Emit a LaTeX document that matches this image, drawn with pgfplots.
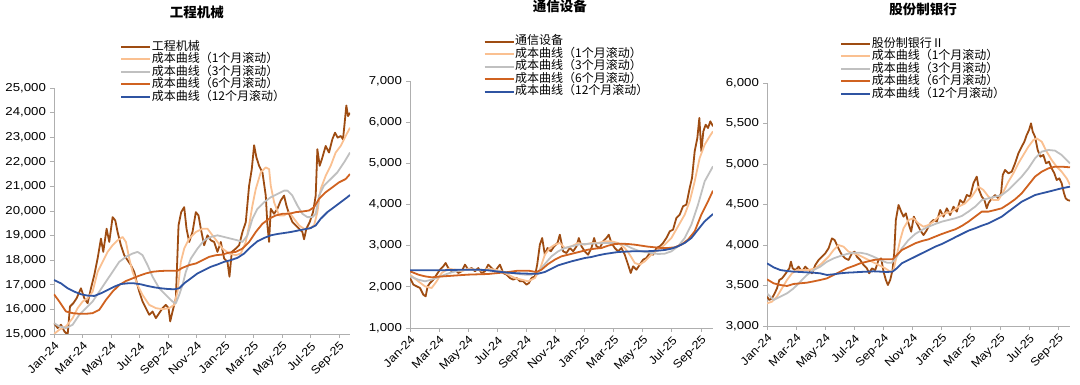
\documentclass[border=0pt]{standalone}
\usepackage{fontspec}
\setmainfont{Liberation Sans}
\newfontfamily\cjk{Noto Sans CJK SC}
\usepackage{pgfplots}
\pgfplotsset{compat=1.18}
\definecolor{cBrown}{RGB}{158,76,18}
\definecolor{cPeach}{RGB}{250,192,145}
\definecolor{cGray}{RGB}{192,192,192}
\definecolor{cOrange}{RGB}{208,98,32}
\definecolor{cBlue}{RGB}{47,84,162}
\definecolor{axgray}{RGB}{175,175,175}
\pgfplotsset{
  panel/.style={
    scale only axis,
    axis x line*=bottom, axis y line*=left,
    axis line style={draw=axgray, line width=0.9pt},
    tick pos=left, tick align=outside,
    major tick length=4pt,
    tick style={draw=axgray, line width=0.9pt},
    scaled y ticks=false,
    /pgf/number format/assume math mode=true,
    yticklabel style={/pgf/number format/fixed, /pgf/number format/1000 sep={,}, font=\fontsize{11.5}{12}\selectfont, xscale=1.15},
    xticklabel style={rotate=45, anchor=north east, font=\fontsize{11.5}{12}\selectfont, xscale=1.1, inner sep=2pt},
    xticklabels={Jan-24,Mar-24,May-24,Jul-24,Sep-24,Nov-24,Jan-25,Mar-25,May-25,Jul-25,Sep-25},
    legend cell align=left,
    legend image code/.code={\draw[#1, line width=2pt] (0pt,0pt) -- (29pt,0pt);},
    legend style={draw=none, fill=none, inner sep=0pt, row sep=0pt,
      font=\cjk\fontsize{12}{12}\selectfont,
      nodes={inner sep=0.6pt, text height=9pt, text depth=2.3pt}},
    clip=true,
  },
  sBrown/.style={color=cBrown, line width=1.8pt, line join=round},
  sPeach/.style={color=cPeach, line width=1.8pt, line join=round},
  sGray/.style={color=cGray, line width=1.8pt, line join=round},
  sOrange/.style={color=cOrange, line width=1.8pt, line join=round},
  sBlue/.style={color=cBlue, line width=1.8pt, line join=round},
}
\begin{document}
\begin{tikzpicture}[x=1pt,y=1pt]
\useasboundingbox (0,0) rectangle (1080,385);
% ---------------- Panel 1 ----------------
\begin{axis}[panel, at={(54pt,51pt)}, anchor=origin,
  width=296pt, height=246pt,
  xmin=14, xmax=903, ymin=15000, ymax=25000,
  xtick={14,99.6,185.2,270.8,356.4,442,527.6,613.2,698.8,784.4,870},
  ytick={15000,16000,...,25000},
  title={\cjk\bfseries 工程机械},
  title style={at={(0.483,1.285)}, anchor=center, font=\fontsize{13.5}{14}\selectfont},
  legend style={at={(0.223,1.193)}, anchor=north west},
]
\addplot[sBrown] coordinates {(14,15444)(25,15242)(35,15377)(45,15108)(55,14973)(62,16117)(72,16252)(82,16454)(95,16858)(105,16454)(115,16252)(125,16858)(135,17396)(145,18069)(155,18876)(162,18338)(172,19280)(180,18742)(190,19751)(198,19617)(205,19146)(215,18607)(225,18203)(235,18002)(245,17800)(255,17530)(262,17127)(270,16723)(280,16319)(290,16050)(300,15781)(310,15915)(320,15646)(330,15848)(340,16050)(350,16184)(358,16050)(363,15511)(370,15915)(380,16454)(388,19415)(396,19953)(405,20155)(412,19280)(420,18742)(430,19146)(440,19953)(448,19819)(455,19280)(465,18607)(475,19011)(485,18809)(495,18742)(505,18338)(515,18742)(525,18069)(535,17934)(541,17329)(548,18338)(560,18473)(570,18607)(580,19146)(590,19550)(600,21030)(608,21703)(615,22672)(622,22174)(630,21838)(640,21569)(650,20626)(655,19415)(660,18742)(665,20088)(675,19886)(685,20088)(695,20424)(705,20626)(712,20222)(720,19886)(730,19550)(740,19415)(750,19280)(760,19146)(765,18850)(772,19280)(782,19550)(792,19953)(800,20626)(805,22511)(812,21838)(820,22174)(830,22645)(840,22376)(850,22915)(858,23184)(866,22982)(875,23049)(882,22915)(887,23588)(892,24288)(897,23857)(903,23991)};
\addlegendentry{工程机械}
\addplot[sPeach] coordinates {(14,15000)(30,15175)(50,15310)(70,15646)(85,16050)(100,16319)(115,16454)(130,16723)(145,17530)(160,17934)(175,18338)(190,18607)(205,18809)(220,18944)(230,18742)(240,18069)(250,17530)(265,16992)(280,16588)(300,16184)(320,16050)(340,16010)(360,16050)(375,16184)(385,16723)(395,17934)(405,18473)(420,18876)(440,19146)(460,19280)(475,19280)(490,19011)(505,18742)(520,18473)(540,18271)(560,18203)(575,18271)(590,18742)(600,19415)(610,20222)(620,20895)(635,21569)(650,21771)(660,21703)(665,21030)(675,20357)(690,19819)(705,19819)(720,19953)(735,19684)(750,19415)(765,19280)(780,19280)(795,19415)(805,19953)(815,20895)(830,21434)(845,21838)(860,22376)(875,22645)(890,23049)(903,23386)};
\addlegendentry{成本曲线（1个月滚动）}
\addplot[sGray] coordinates {(14,15444)(30,15310)(50,15242)(70,15377)(90,15781)(110,16050)(130,16319)(150,16723)(170,17127)(190,17530)(210,17934)(230,18136)(250,18271)(265,18338)(280,18203)(295,17800)(310,17329)(330,16858)(350,16588)(370,16319)(380,16252)(390,16588)(400,16992)(410,17530)(425,18069)(445,18473)(465,18809)(485,18944)(505,19011)(525,18944)(545,18876)(565,18809)(580,18742)(595,19011)(610,19684)(625,20088)(645,20357)(665,20559)(685,20693)(705,20828)(715,20828)(730,20626)(745,20222)(760,19886)(775,19751)(790,19751)(800,19886)(810,20626)(825,21030)(845,21299)(865,21569)(885,21972)(903,22376)};
\addlegendentry{成本曲线（3个月滚动）}
\addplot[sOrange] coordinates {(14,16615)(30,16319)(50,15915)(70,15848)(90,15821)(110,15821)(130,15848)(150,15983)(170,16386)(190,16723)(210,16992)(230,17154)(250,17261)(270,17369)(290,17463)(310,17530)(330,17557)(350,17571)(370,17571)(385,17571)(400,17692)(420,17800)(440,17867)(460,18002)(480,18136)(500,18203)(520,18230)(540,18311)(560,18338)(580,18473)(600,18742)(620,19146)(640,19482)(660,19684)(680,19819)(700,19886)(720,19886)(740,19953)(760,19980)(780,20020)(795,20155)(810,20492)(830,20761)(850,20963)(870,21164)(890,21299)(903,21501)};
\addlegendentry{成本曲线（6个月滚动）}
\addplot[sBlue] coordinates {(14,17194)(35,17059)(55,16858)(75,16723)(95,16615)(115,16561)(135,16548)(155,16655)(175,16790)(195,16925)(215,17032)(235,17059)(255,17059)(275,17019)(295,16952)(315,16898)(335,16858)(355,16831)(375,16817)(390,16858)(405,17059)(425,17261)(445,17463)(465,17598)(485,17732)(505,17826)(525,17934)(545,18002)(565,18096)(585,18271)(605,18540)(625,18769)(645,18903)(665,19011)(685,19065)(705,19105)(725,19146)(745,19200)(765,19253)(785,19307)(800,19415)(815,19684)(835,19953)(855,20155)(875,20357)(895,20559)(903,20653)};
\addlegendentry{成本曲线（12个月滚动）}
\end{axis}
% ---------------- Panel 2 ----------------
\begin{axis}[panel, at={(410pt,57pt)}, anchor=origin,
  width=303pt, height=247pt,
  xmin=15, xmax=925, ymin=1000, ymax=7000,
  xtick={15,102.4,189.8,277.2,364.6,452,539.4,626.8,714.2,801.6,889},
  ytick={1000,2000,...,7000},
  title={\cjk\bfseries 通信设备},
  title style={at={(0.495,1.279)}, anchor=center, font=\fontsize{13.5}{14}\selectfont},
  legend style={at={(0.242,1.186)}, anchor=north west},
]
\addplot[sBrown] coordinates {(15,2215)(25,2053)(35,2012)(45,1972)(55,1810)(62,1769)(68,2012)(75,2093)(85,2174)(95,2296)(105,2417)(115,2498)(122,2579)(130,2457)(140,2377)(150,2417)(160,2336)(170,2377)(180,2539)(190,2417)(200,2457)(210,2377)(220,2457)(230,2336)(240,2377)(250,2539)(260,2457)(270,2377)(285,2539)(295,2336)(305,2296)(315,2215)(325,2174)(335,2215)(345,2134)(355,2134)(365,2053)(372,2093)(380,2215)(390,2255)(397,2539)(405,3024)(412,3186)(420,2781)(428,2943)(438,2862)(448,2984)(458,3065)(465,3267)(475,2862)(485,2822)(495,2943)(505,2862)(515,2984)(522,3186)(530,2984)(540,2862)(550,2781)(560,2943)(568,3186)(575,2984)(585,2943)(595,3105)(605,3186)(612,3267)(620,3065)(630,2943)(640,2862)(650,2943)(660,2781)(670,2539)(678,2336)(685,2498)(695,2417)(705,2539)(715,2660)(725,2700)(735,2822)(745,2781)(755,2943)(765,2984)(775,3065)(785,3186)(795,3348)(805,3389)(815,3672)(825,3753)(835,3955)(845,3996)(855,4401)(862,4644)(870,5291)(878,5615)(884,6101)(890,5291)(896,5777)(903,5939)(910,5858)(917,6020)(925,5899)};
\addlegendentry{通信设备}
\addplot[sPeach] coordinates {(15,2296)(40,2134)(60,2012)(80,1972)(95,2134)(110,2336)(130,2441)(150,2417)(170,2377)(190,2441)(210,2417)(230,2393)(250,2441)(270,2417)(290,2377)(310,2296)(330,2215)(350,2174)(370,2134)(390,2215)(405,2417)(420,2781)(435,2943)(450,3024)(465,3065)(480,2943)(500,2984)(520,3065)(540,3024)(560,3065)(580,3065)(600,3105)(620,3105)(640,3065)(660,2943)(675,2781)(690,2579)(705,2539)(720,2619)(740,2781)(760,2903)(780,3024)(800,3186)(820,3470)(840,3753)(855,4077)(870,4563)(885,5129)(900,5453)(915,5656)(925,5777)};
\addlegendentry{成本曲线（1个月滚动）}
\addplot[sGray] coordinates {(15,2255)(40,2174)(60,2134)(80,2174)(100,2231)(120,2296)(140,2352)(160,2393)(180,2409)(200,2417)(220,2417)(240,2409)(260,2401)(280,2377)(300,2352)(320,2336)(340,2312)(360,2296)(380,2296)(400,2360)(420,2555)(440,2741)(460,2862)(480,2943)(500,2984)(520,3024)(540,3040)(560,3049)(580,3057)(600,3065)(620,3065)(640,3049)(660,3024)(680,2943)(700,2879)(720,2846)(740,2822)(760,2798)(780,2806)(800,2862)(820,2984)(840,3186)(860,3510)(880,3996)(900,4563)(925,4927)};
\addlegendentry{成本曲线（3个月滚动）}
\addplot[sOrange] coordinates {(15,2377)(40,2296)(60,2255)(80,2231)(100,2247)(130,2263)(160,2280)(190,2296)(220,2304)(250,2312)(280,2336)(310,2360)(340,2393)(370,2393)(395,2360)(410,2417)(430,2555)(450,2660)(470,2741)(490,2781)(510,2822)(530,2862)(550,2903)(570,2927)(590,2943)(610,3000)(630,3040)(650,3049)(670,3040)(690,3024)(710,3000)(730,2976)(750,2960)(770,2943)(790,2943)(810,2960)(830,3024)(850,3146)(870,3348)(890,3753)(910,4077)(925,4336)};
\addlegendentry{成本曲线（6个月滚动）}
\addplot[sBlue] coordinates {(15,2401)(60,2401)(100,2401)(140,2409)(180,2417)(220,2417)(250,2401)(280,2368)(310,2344)(340,2328)(370,2320)(400,2320)(420,2360)(440,2441)(460,2522)(480,2571)(500,2619)(520,2660)(540,2700)(560,2725)(580,2765)(600,2798)(620,2822)(640,2846)(660,2854)(680,2862)(700,2862)(720,2862)(740,2870)(760,2879)(780,2895)(800,2927)(820,2984)(840,3065)(860,3186)(880,3389)(900,3591)(925,3769)};
\addlegendentry{成本曲线（12个月滚动）}
\end{axis}
% ---------------- Panel 3 ----------------
\begin{axis}[panel, at={(767pt,59pt)}, anchor=origin,
  width=303pt, height=243pt,
  xmin=15, xmax=925, ymin=3000, ymax=6000,
  xtick={15,102.5,190,277.5,365,452.5,540,627.5,715,802.5,890},
  ytick={3000,3500,...,6000},
  title={\cjk\bfseries 股份制银行},
  title style={at={(0.515,1.28)}, anchor=center, font=\fontsize{13.5}{14}\selectfont},
  legend style={at={(0.241,1.188)}, anchor=north west},
]
\addplot[sBrown] coordinates {(15,3362)(22,3321)(30,3342)(38,3403)(45,3465)(52,3568)(60,3588)(68,3630)(75,3671)(82,3712)(87,3794)(92,3712)(100,3691)(110,3733)(120,3671)(130,3733)(140,3691)(150,3650)(160,3753)(170,3815)(180,3856)(190,3897)(200,3959)(210,4082)(218,4062)(225,4000)(232,3938)(240,3877)(250,3835)(260,3815)(270,3897)(278,3918)(285,3856)(295,3815)(305,3753)(315,3712)(322,3650)(330,3712)(340,3691)(350,3815)(358,3835)(365,3671)(372,3568)(378,3506)(385,3568)(392,3691)(397,3897)(402,4309)(410,4494)(418,4412)(425,4350)(432,4391)(440,4267)(448,4165)(456,4350)(465,4267)(475,4185)(485,4123)(495,4185)(505,4267)(515,4309)(525,4288)(535,4432)(545,4350)(555,4453)(565,4370)(575,4473)(585,4412)(595,4555)(605,4514)(615,4617)(625,4597)(635,4761)(645,4844)(652,4679)(660,4597)(668,4555)(675,4453)(680,4514)(690,4576)(700,4617)(710,4576)(718,4638)(723,4864)(730,4926)(740,4885)(750,4905)(760,5008)(770,5132)(780,5214)(788,5276)(795,5358)(802,5420)(808,5502)(813,5399)(820,5337)(828,5173)(836,5090)(845,5111)(853,5008)(862,5029)(870,4946)(878,4885)(885,4802)(893,4823)(900,4761)(907,4638)(912,4576)(918,4555)(925,4547)};
\addlegendentry{股份制银行Ⅱ}
\addplot[sPeach] coordinates {(15,3280)(30,3300)(45,3362)(60,3465)(75,3568)(90,3650)(105,3691)(120,3691)(140,3691)(160,3712)(180,3774)(200,3856)(215,3938)(230,4000)(245,3979)(260,3918)(275,3897)(290,3877)(310,3835)(330,3794)(350,3753)(370,3712)(385,3671)(395,3691)(405,3877)(415,4062)(425,4206)(440,4309)(455,4329)(470,4267)(485,4226)(500,4247)(515,4288)(530,4350)(550,4391)(570,4412)(590,4473)(610,4514)(630,4597)(650,4720)(665,4679)(680,4597)(695,4555)(710,4555)(725,4658)(740,4782)(755,4885)(770,5008)(785,5111)(800,5214)(815,5296)(825,5317)(840,5276)(855,5152)(870,5049)(885,4967)(900,4905)(915,4823)(925,4741)};
\addlegendentry{成本曲线（1个月滚动）}
\addplot[sGray] coordinates {(15,3403)(35,3321)(55,3362)(75,3403)(95,3465)(115,3547)(135,3630)(155,3691)(175,3733)(195,3794)(215,3835)(235,3864)(255,3889)(275,3905)(295,3905)(315,3889)(335,3856)(355,3815)(375,3782)(390,3782)(405,3856)(420,3959)(440,4062)(460,4136)(480,4185)(500,4226)(520,4259)(540,4288)(560,4309)(580,4329)(600,4358)(620,4412)(640,4473)(660,4555)(680,4576)(700,4597)(720,4617)(740,4679)(760,4761)(780,4844)(800,4946)(820,5070)(840,5152)(860,5173)(880,5165)(900,5111)(925,5008)};
\addlegendentry{成本曲线（3个月滚动）}
\addplot[sOrange] coordinates {(15,3576)(35,3527)(55,3506)(75,3494)(95,3519)(115,3527)(135,3535)(155,3551)(175,3568)(195,3588)(215,3630)(235,3671)(255,3712)(275,3741)(295,3774)(315,3794)(335,3815)(355,3823)(375,3823)(392,3823)(405,3877)(420,3938)(440,3979)(460,4021)(480,4049)(500,4070)(520,4103)(540,4136)(560,4165)(580,4193)(600,4235)(620,4288)(640,4350)(660,4412)(680,4412)(700,4432)(720,4453)(740,4506)(760,4564)(780,4638)(800,4741)(820,4844)(840,4905)(860,4946)(880,4967)(900,4967)(925,4959)};
\addlegendentry{成本曲线（6个月滚动）}
\addplot[sBlue] coordinates {(15,3774)(35,3724)(55,3691)(75,3679)(95,3671)(115,3667)(135,3662)(155,3658)(175,3650)(195,3630)(215,3638)(235,3650)(255,3658)(275,3662)(295,3667)(315,3671)(335,3675)(355,3671)(375,3667)(392,3671)(405,3712)(420,3774)(440,3815)(460,3856)(480,3897)(500,3938)(520,3979)(540,4012)(560,4053)(580,4095)(600,4136)(620,4177)(640,4206)(660,4239)(680,4267)(700,4309)(720,4350)(740,4412)(760,4473)(780,4535)(800,4576)(820,4617)(840,4638)(860,4658)(880,4679)(900,4700)(925,4720)};
\addlegendentry{成本曲线（12个月滚动）}
\end{axis}
\end{tikzpicture}
\end{document}
